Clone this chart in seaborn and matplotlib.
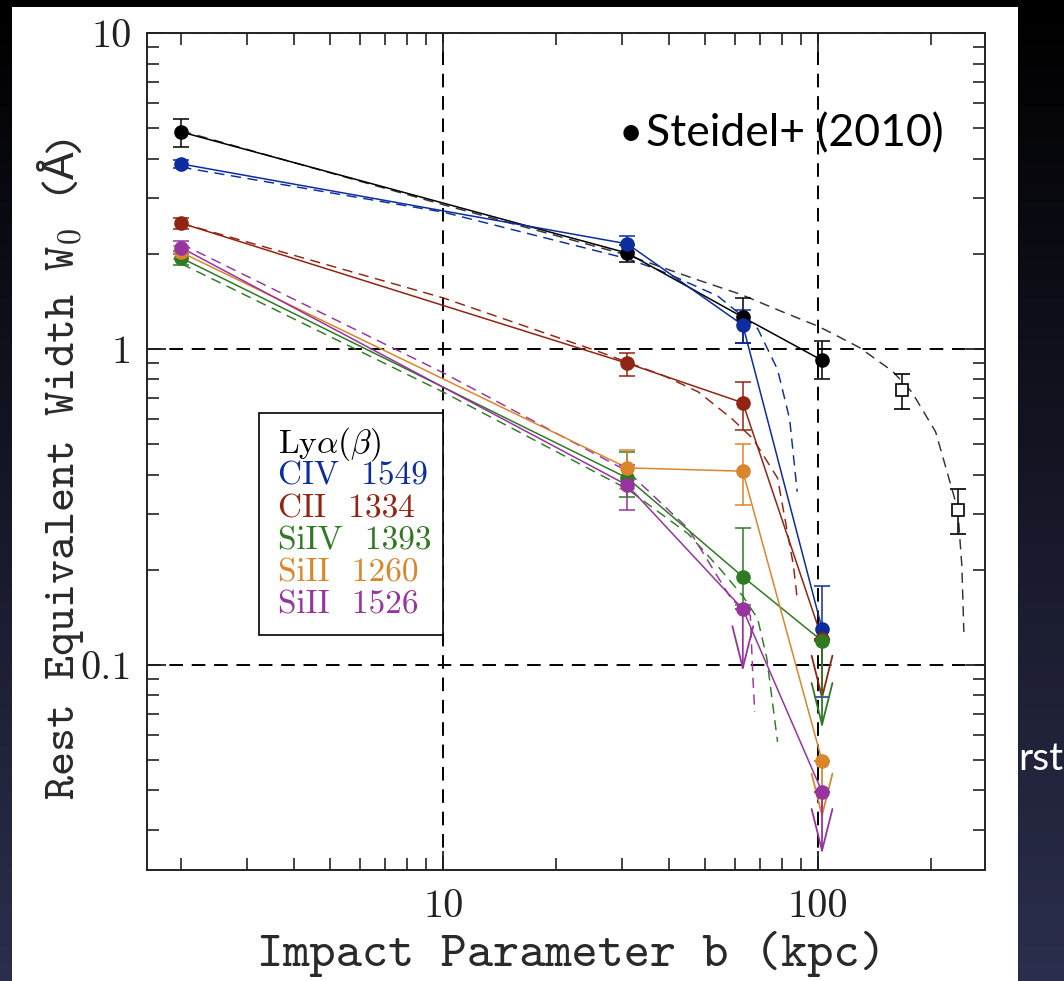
import numpy as np
import pandas as pd
import matplotlib
matplotlib.use("Agg")
import matplotlib.pyplot as plt
import seaborn as sns
from matplotlib.patches import Rectangle

# ---------------------------------------------------------------- data
# impact-parameter bins (kpc)
b_bins = [2.0, 31.0, 63.0, 102.5]

ion_keys = ["lya", "civ", "cii", "siiv", "sii1260", "sii1526"]
legend_labels = [r"Ly$\alpha(\beta)$", "CIV 1549", "CII 1334",
                 "SiIV 1393", "SiII 1260", "SiII 1526"]

# rest equivalent widths (Angstrom)
w_lya = [4.86, 2.01, 1.26, 0.92]
w_civ = [3.85, 2.15, 1.19, 0.130]
w_cii = [2.50, 0.90, 0.675, 0.121]
w_siiv = [1.94, 0.39, 0.19, 0.119]
w_sii1260 = [2.02, 0.42, 0.41, 0.0497]
w_sii1526 = [2.09, 0.37, 0.150, 0.0396]

# 1-sigma errors (lower, upper)
err_lya_lo = [0.50, 0.13, 0.22, 0.12]
err_lya_hi = [0.49, 0.12, 0.19, 0.14]
err_civ_lo = [0.12, 0.12, 0.15, 0.051]
err_civ_hi = [0.12, 0.13, 0.14, 0.048]
err_cii_lo = [0.10, 0.08, 0.12, 0.0]
err_cii_hi = [0.10, 0.07, 0.11, 0.0]
err_siiv_lo = [0.10, 0.05, 0.035, 0.0]
err_siiv_hi = [0.10, 0.08, 0.08, 0.0]
err_sii1260_lo = [0.10, 0.06, 0.09, 0.0]
err_sii1260_hi = [0.10, 0.06, 0.09, 0.0]
err_sii1526_lo = [0.10, 0.06, 0.0, 0.0]
err_sii1526_hi = [0.10, 0.06, 0.0, 0.0]

# upper limits
lim_lya = [False, False, False, False]
lim_civ = [False, False, False, False]
lim_cii = [False, False, False, True]
lim_siiv = [False, False, False, True]
lim_sii1260 = [False, False, False, True]
lim_sii1526 = [False, False, True, True]

# Steidel et al. (2010) Lya points at large b
b_steidel = [168.0, 236.0]
w_steidel = [0.742, 0.309]
err_steidel_lo = [0.096, 0.05]
err_steidel_hi = [0.09, 0.05]

# model curves (dashed)
model_b_lya = [2.0, 10, 31, 48, 62, 83, 100, 114, 129, 158, 178, 206, 221, 236, 242, 245]
model_w_lya = [4.9, 2.86, 1.98, 1.65, 1.49, 1.29, 1.18, 1.09, 1.01, 0.85, 0.73, 0.546, 0.408, 0.31, 0.206, 0.127]
model_b_civ = [2.0, 10, 31, 37, 43, 54, 69, 78, 84, 88]
model_w_civ = [3.76, 2.71, 1.93, 1.79, 1.66, 1.47, 1.16, 0.86, 0.60, 0.353]
model_b_cii = [2.0, 10, 26, 39, 48, 59, 67, 78, 86, 88]
model_w_cii = [2.5, 1.45, 0.98, 0.82, 0.73, 0.60, 0.52, 0.39, 0.206, 0.162]
model_b_siiv = [2.0, 10, 31, 45, 55, 63, 69, 73, 78]
model_w_siiv = [1.86, 0.73, 0.36, 0.26, 0.20, 0.165, 0.14, 0.105, 0.057]
model_b_sii1526 = [2.0, 10, 31, 45, 59, 64, 66, 67, 67.8]
model_w_sii1526 = [2.15, 0.84, 0.41, 0.27, 0.16, 0.15, 0.143, 0.092, 0.071]

# ---------------------------------------------------------------- tables
W_obs = dict(lya=w_lya, civ=w_civ, cii=w_cii, siiv=w_siiv,
             sii1260=w_sii1260, sii1526=w_sii1526)
E_lo = dict(lya=err_lya_lo, civ=err_civ_lo, cii=err_cii_lo, siiv=err_siiv_lo,
            sii1260=err_sii1260_lo, sii1526=err_sii1526_lo)
E_hi = dict(lya=err_lya_hi, civ=err_civ_hi, cii=err_cii_hi, siiv=err_siiv_hi,
            sii1260=err_sii1260_hi, sii1526=err_sii1526_hi)
LIM = dict(lya=lim_lya, civ=lim_civ, cii=lim_cii, siiv=lim_siiv,
           sii1260=lim_sii1260, sii1526=lim_sii1526)
MODELS = dict(lya=(model_b_lya, model_w_lya), civ=(model_b_civ, model_w_civ),
              cii=(model_b_cii, model_w_cii), siiv=(model_b_siiv, model_w_siiv),
              sii1526=(model_b_sii1526, model_w_sii1526))

palette = dict(lya="#000000", civ="#0d2c9e", cii="#922414", siiv="#2f7a22",
               sii1260="#da862c", sii1526="#97349f")
model_palette = dict(palette, lya="#333333")
# length of the upper-limit arrows (points)
arrow_len = dict(lya=45, civ=45, cii=45, siiv=63, sii1260=42, sii1526=45)

obs_df = pd.DataFrame([(k, b, w) for k in ion_keys for b, w in zip(b_bins, W_obs[k])],
                      columns=["ion", "b", "W"])
model_df = pd.DataFrame([(k, b, w) for k, (bs, ws) in MODELS.items() for b, w in zip(bs, ws)],
                        columns=["ion", "b", "W"])

# ---------------------------------------------------------------- figure
sns.set_style("ticks")
plt.rcParams["mathtext.fontset"] = "cm"
plt.rcParams["font.family"] = ["DejaVu Sans"]

FW, FH = 1064, 981
fig = plt.figure(figsize=(FW / 100, FH / 100), dpi=100)


def fx(px):
    return px / FW


def fy(py):
    return 1 - py / FH


# slide backdrop and white panel
bg = fig.add_axes([0, 0, 1, 1], zorder=-10)
grad = np.linspace(0, 1, 256)[:, None]
top_c = np.array([0.0, 0.0, 0.0])
bot_c = np.array([0.17, 0.18, 0.30])
img = top_c[None, None, :] + grad[:, :, None] * (bot_c - top_c)[None, None, :]
bg.imshow(img, aspect="auto", extent=[0, 1, 0, 1], origin="upper")
bg.set_axis_off()
fig.add_artist(Rectangle((fx(12), 0), fx(1018) - fx(12), fy(7), transform=fig.transFigure,
                         facecolor="white", edgecolor="none", zorder=-5))

ax = fig.add_axes([fx(147), fy(870), fx(985) - fx(147), fy(33) - fy(870)], zorder=1)
ax.set_facecolor("white")
ax.set_xscale("log")
ax.set_yscale("log")

# model curves
sns.lineplot(data=model_df, x="b", y="W", hue="ion", palette=model_palette,
             sort=False, estimator=None, legend=False, ax=ax,
             lw=1.05, linestyle=(0, (7, 4.5)), zorder=2)

# connecting lines through the measurements
sns.lineplot(data=obs_df, x="b", y="W", hue="ion", palette=palette,
             sort=False, estimator=None, legend=False, ax=ax, lw=1.1, zorder=3)

# points with error bars and upper-limit arrows
for k in ion_keys:
    c = palette[k]
    lo = np.array(E_lo[k])
    hi = np.array(E_hi[k])
    ax.errorbar(b_bins, W_obs[k], yerr=[lo, hi], fmt="o", color=c, ms=9.5,
                elinewidth=1.1, capsize=5.5, capthick=1.1, zorder=4)
    for b, w, is_lim in zip(b_bins, W_obs[k], LIM[k]):
        if is_lim:
            ax.annotate("", xy=(b, w), xycoords="data",
                        xytext=(0, -arrow_len[k]), textcoords="offset points",
                        arrowprops=dict(arrowstyle="<-,head_length=3.0,head_width=0.75",
                                        color=c, lw=1.3, shrinkA=0, shrinkB=0,
                                        mutation_scale=10),
                        zorder=4)

ax.errorbar(b_steidel, w_steidel, yerr=[err_steidel_lo, err_steidel_hi], fmt="s",
            mfc="white", mec="black", mew=1.2, ms=8.5, color="black",
            elinewidth=1.1, capsize=6, capthick=1.1, zorder=4)

# axes
ax.set_xlim(1.62, 279)
ax.set_ylim(0.0224, 10)
ax.set_xticks([10, 100])
ax.set_xticklabels(["10", "100"], fontfamily="cmr10", fontsize=29, color="#222222")
ax.set_yticks([0.1, 1, 10])
ax.set_yticklabels(["0.1", "1", "10"], fontfamily="cmr10", fontsize=29, color="#222222")
ax.tick_params(which="both", direction="in", top=True, right=True, colors="#222222")
ax.tick_params(which="major", length=14, width=1.3)
ax.tick_params(axis="x", which="major", pad=14)
ax.tick_params(axis="y", which="major", pad=11)
ax.tick_params(which="minor", length=8.5, width=1.2)
ax.tick_params(which="minor", labelleft=False, labelbottom=False)
for s in ax.spines.values():
    s.set_color("#222222")
    s.set_linewidth(1.4)
ax.grid(which="major", color="black", lw=1.4, ls=(0, (7, 4.5)))
ax.set_axisbelow(True)
ax.set_xlabel("")
ax.set_ylabel("")

# legend box with coloured labels
fig.add_artist(Rectangle((fx(259), fy(635)), fx(443) - fx(259), fy(413) - fy(635),
                         transform=fig.transFigure, facecolor="white",
                         edgecolor="black", lw=1.2, zorder=5))
baselines = [453, 484, 517, 549, 582, 614]
for k, lab, yb in zip(ion_keys, legend_labels, baselines):
    fig.text(fx(278), fy(yb), lab.replace(" ", "  "), color=palette[k], fontfamily="cmr10",
             fontsize=24, ha="left", va="baseline", zorder=6)

# axis titles
fig.text(fx(571), fy(954), "Impact Parameter b (kpc)", fontfamily="cmtt10",
         fontsize=36, ha="center", va="center", color="#2a2a2a", zorder=6)

# vertical title, assembled piece by piece along a common baseline
renderer = fig.canvas.get_renderer()
ylabel_parts = [("Rest Equivalent Width W$_\\mathtt{0}$ (", "cmtt10"),
                ("\u00c5", "Liberation Mono"),
                (")", "cmtt10")]
base_x = fx(74)
y_px = 800.0
for txt, fam in ylabel_parts:
    t = fig.text(base_x, fy(y_px), txt, fontfamily=fam, fontsize=33, rotation=90,
                 rotation_mode="anchor", ha="left", va="baseline",
                 color="#2a2a2a", zorder=6)
    y_px -= t.get_window_extent(renderer).height

# slide annotations
fig.text(fx(619), fy(146), "\u2022", fontfamily="Lato", fontsize=30,
         ha="left", va="baseline", color="black", zorder=6)
fig.text(fx(646), fy(146), "Steidel+ (2010)", fontfamily="Lato", fontsize=32,
         ha="left", va="baseline", color="black", zorder=6)
fig.text(fx(1018), fy(770), "rst", fontfamily="Lato", fontsize=28,
         ha="left", va="baseline", color="white", zorder=0)

fig.savefig("out.png", dpi=100)
